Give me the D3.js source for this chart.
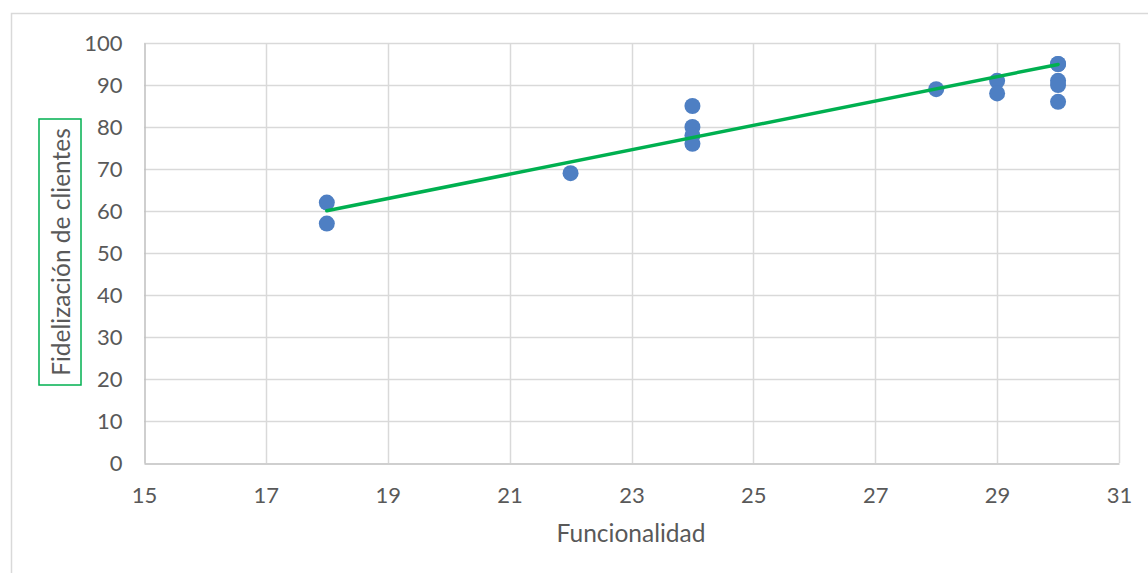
<!DOCTYPE html>
<html>
<head>
<meta charset="utf-8">
<script src="https://cdn.jsdelivr.net/npm/d3@7"></script>
<style>
  html, body { margin: 0; padding: 0; background: #fff; }
  svg { display: block; }
  text { font-family: Lato, "Open Sans", sans-serif; fill: #595959; }
</style>
</head>
<body>
<svg id="chart" width="1148" height="573"></svg>
<script>
// Observations: functionality score vs. customer loyalty
const funcionalidad = [18, 18, 22, 24, 24, 24, 24, 28, 29, 29, 30, 30, 30, 30, 30];
const fidelizacion  = [62, 57, 69, 85, 80, 78, 76, 89, 91, 88, 95, 95, 91, 90, 86];

// Linear trendline (slope, intercept) and the x range it covers
const trendSlope = 2.904;
const trendIntercept = 7.78;
const trendRange = [18, 30];

const xTicks = [15, 17, 19, 21, 23, 25, 27, 29, 31];
const yTicks = [0, 10, 20, 30, 40, 50, 60, 70, 80, 90, 100];

const xTitle = "Funcionalidad";
const yTitle = "Fidelización de clientes";

const svg = d3.select("#chart");
const W = 1148, H = 573;
const plot = { left: 144, right: 1119, top: 43, bottom: 463 };

// outer chart frame
svg.append("rect")
  .attr("x", 11.5).attr("y", 13.5)
  .attr("width", W + 10).attr("height", H + 10)
  .attr("fill", "none").attr("stroke", "#d9d9d9").attr("stroke-width", 1.5);

const x = d3.scaleLinear().domain([15, 31]).range([plot.left, plot.right]);
const y = d3.scaleLinear().domain([0, 100]).range([plot.bottom, plot.top]);

// gridlines
const grid = svg.append("g");
grid.selectAll("line.h").data(yTicks.filter(t => t > 0)).join("line")
  .attr("x1", plot.left).attr("x2", plot.right)
  .attr("y1", d => Math.round(y(d)) + 0.5).attr("y2", d => Math.round(y(d)) + 0.5)
  .attr("stroke", "#d9d9d9").attr("stroke-width", 1.5);
grid.selectAll("line.v").data(xTicks.filter(t => t > 15)).join("line")
  .attr("y1", plot.top).attr("y2", plot.bottom)
  .attr("x1", d => Math.round(x(d)) + 0.5).attr("x2", d => Math.round(x(d)) + 0.5)
  .attr("stroke", "#d9d9d9").attr("stroke-width", 1.5);

// axes
const xAxis = d3.axisBottom(x).tickValues(xTicks).tickSize(0).tickPadding(24);
const yAxis = d3.axisLeft(y).tickValues(yTicks).tickSize(0).tickPadding(22);

const gx = svg.append("g").attr("transform", `translate(0,${plot.bottom + 0.5})`).call(xAxis);
const gy = svg.append("g").attr("transform", `translate(${plot.left + 0.5},0)`).call(yAxis);
[gx, gy].forEach(g => {
  g.select(".domain").attr("stroke", "#bfbfbf").attr("stroke-width", 1.5);
  g.selectAll("text").style("font-size", "22px").attr("fill", "#595959");
});

// scatter points
svg.append("g").selectAll("circle")
  .data(funcionalidad.map((v, i) => [v, fidelizacion[i]]))
  .join("circle")
  .attr("cx", d => x(d[0])).attr("cy", d => y(d[1]))
  .attr("r", 8)
  .attr("fill", "#4e7fc3");

// trendline
const line = d3.line().x(d => x(d)).y(d => y(trendSlope * d + trendIntercept));
svg.append("path")
  .datum(trendRange)
  .attr("d", line)
  .attr("fill", "none")
  .attr("stroke", "#00b050")
  .attr("stroke-width", 3.5)
  .attr("stroke-linecap", "round");

// axis titles
svg.append("text")
  .attr("x", 631).attr("y", 542)
  .attr("text-anchor", "middle")
  .style("font-size", "24.5px")
  .text(xTitle);

const yt = svg.append("g").attr("transform", "translate(61,252) rotate(-90)");
yt.append("rect")
  .attr("x", -133).attr("y", -22)
  .attr("width", 266).attr("height", 42)
  .attr("fill", "none").attr("stroke", "#00b050").attr("stroke-width", 1.5);
yt.append("text")
  .attr("x", 0).attr("y", 9)
  .attr("text-anchor", "middle")
  .style("font-size", "24.5px")
  .text(yTitle);
</script>
</body>
</html>
